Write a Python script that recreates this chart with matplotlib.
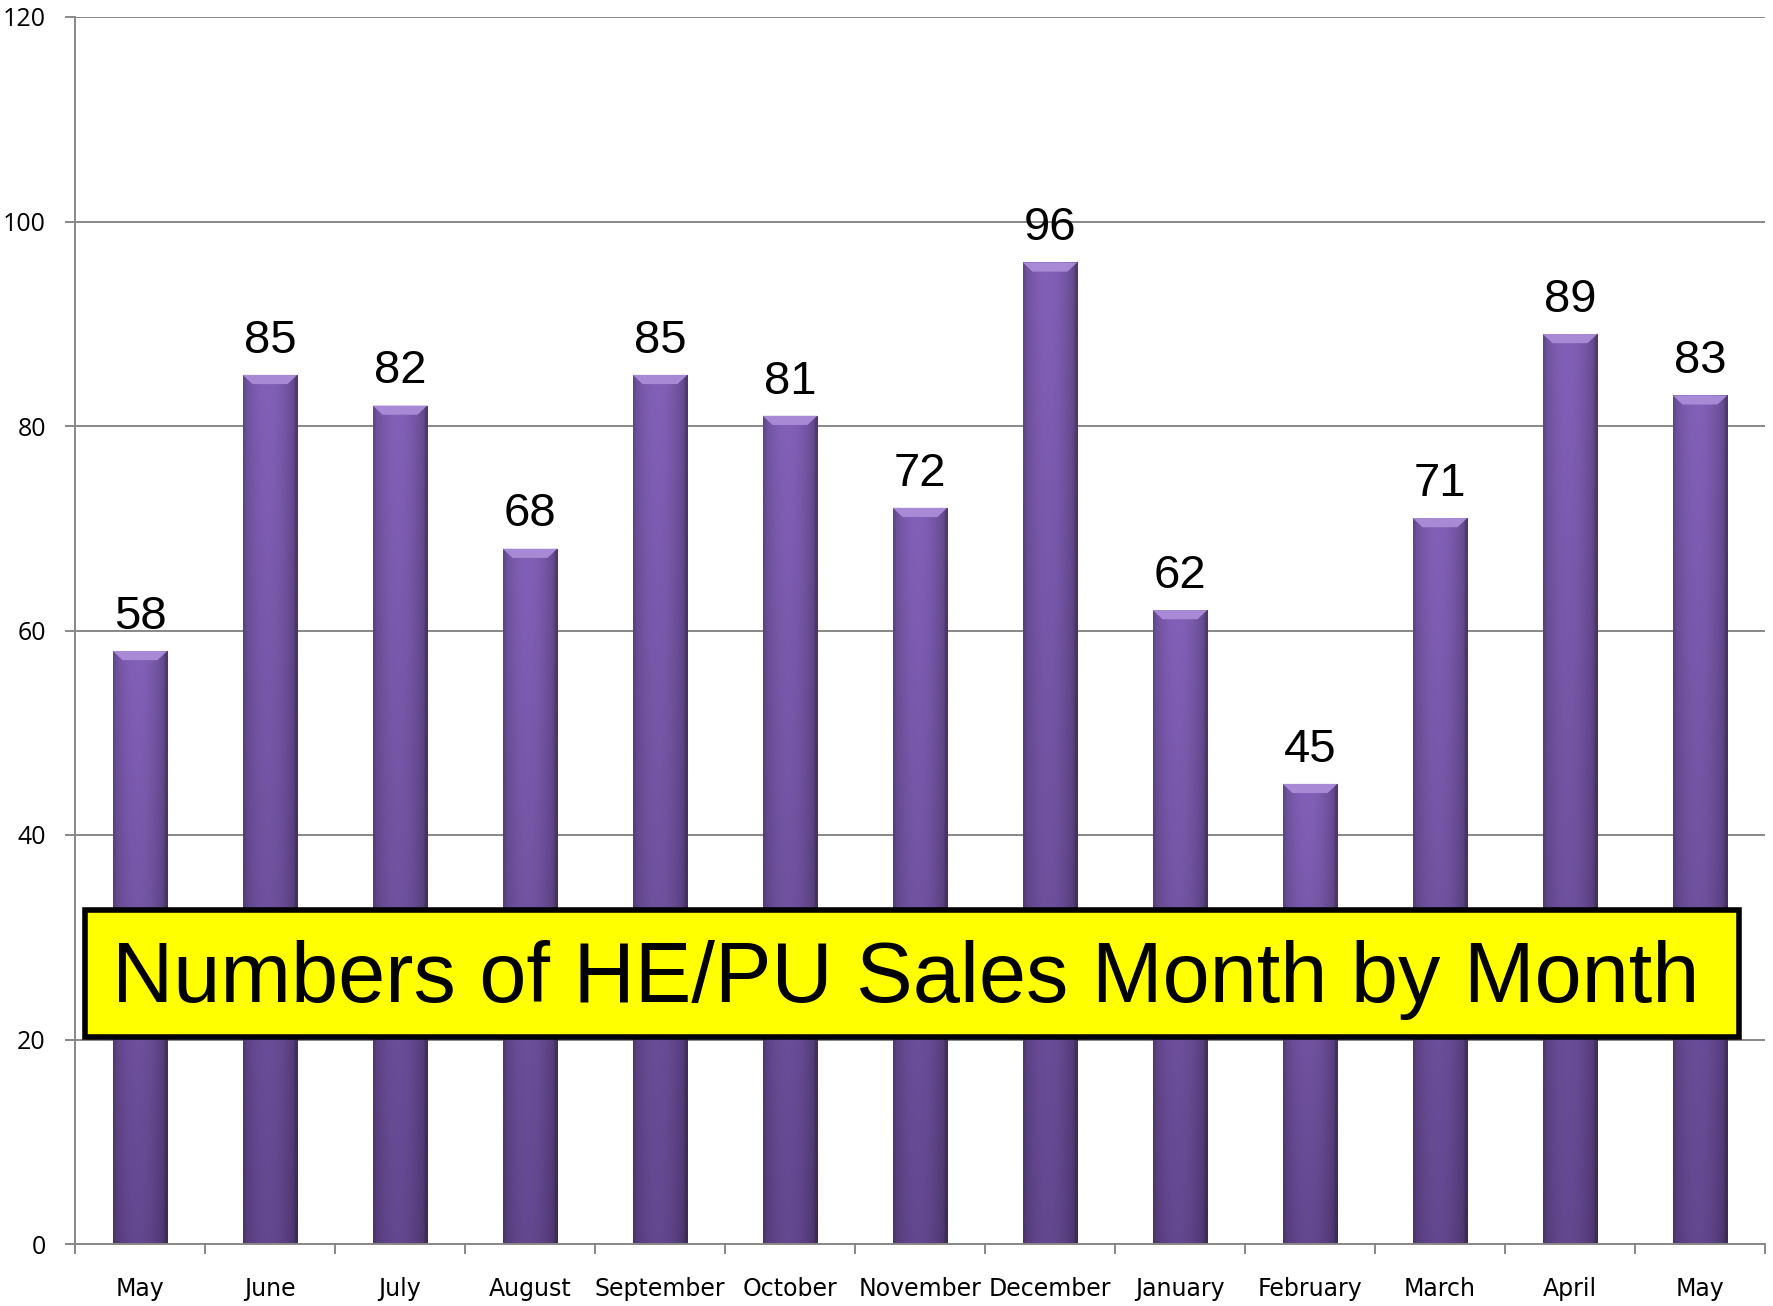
import numpy as np
import matplotlib
matplotlib.use("Agg")
import matplotlib.pyplot as plt
from matplotlib.patches import Rectangle, Polygon

months = ["May", "June", "July", "August", "September", "October", "November",
          "December", "January", "February", "March", "April", "May"]
sales = [58, 85, 82, 68, 85, 81, 72, 96, 62, 45, 71, 89, 83]
yticks = [0, 20, 40, 60, 80, 100, 120]
title = "Numbers of HE/PU Sales Month by Month"

W, H, DPI = 1774, 1306, 100
fig = plt.figure(figsize=(W / DPI, H / DPI), dpi=DPI)
ax = fig.add_axes([75 / W, 1 - 1244 / H, (1765 - 75) / W, (1244 - 17) / H])

x = np.arange(len(sales))
bars = ax.bar(x, sales, width=0.42, color="#7456A3", edgecolor="none", zorder=2)

# gradient fill for each bar
hx = np.linspace(0, 1, 64)
horiz = 1 - 0.25 * np.abs(hx - 0.45) ** 2 * 4
horiz[:3] *= 0.93
horiz[-4:] *= 0.85
vy = np.linspace(0, 1, 128)[:, None]
top_c = np.array([0x82, 0x60, 0xB8]) / 255
bot_c = np.array([0x63, 0x47, 0x8F]) / 255
base = bot_c[None, None, :] * (1 - vy[..., None]) + top_c[None, None, :] * vy[..., None]
img = np.clip(base * horiz[None, :, None], 0, 1)
for b in bars:
    x0, w, h = b.get_x(), b.get_width(), b.get_height()
    im = ax.imshow(img, extent=(x0, x0 + w, 0, h), origin="lower", aspect="auto",
                   zorder=2.1, interpolation="bilinear")
    im.set_clip_path(b)
    # top bevel (trapezoid)
    d = 0.9
    ax.add_patch(Polygon([(x0, h), (x0 + w, h), (x0 + w * 0.82, h - d), (x0 + w * 0.18, h - d)],
                         closed=True, facecolor="#A789D6", edgecolor="none", zorder=2.2))
    ax.text(x0 + w / 2, h + 1.2, str(int(h)), ha="center", va="bottom",
            fontsize=34, family="Liberation Sans", color="black", zorder=3)

ax.set_xlim(-0.5, len(sales) - 0.5)
ax.set_ylim(0, 120)
ax.set_yticks(yticks)
ax.set_yticklabels([str(t) for t in yticks], fontsize=18, family="Open Sans")
ax.set_xticks(x)
ax.set_xticklabels(months, fontsize=17, family="DejaVu Sans")
ax.set_xticks(np.arange(len(sales) + 1) - 0.5, minor=True)
ax.tick_params(axis="x", which="major", length=0, pad=24)
ax.tick_params(axis="x", which="minor", length=7, width=1.4, color="#888888")
ax.tick_params(axis="y", length=7, width=1.4, color="#888888", pad=14)
ax.yaxis.grid(True, color="#888888", linewidth=1.4, zorder=1)
ax.set_axisbelow(True)
for s in ["top", "right"]:
    ax.spines[s].set_visible(False)
for s in ["left", "bottom"]:
    ax.spines[s].set_color("#888888")
    ax.spines[s].set_linewidth(1.4)

# yellow title box
bx0, bx1 = 85 / W, 1739 / W
by0, by1 = 1 - 1037 / H, 1 - 910 / H
fig.patches.append(Rectangle((bx0, by0), bx1 - bx0, by1 - by0, transform=fig.transFigure,
                             facecolor="#FFFF00", edgecolor="black", linewidth=4, zorder=5))
fig.text((bx0 + bx1) / 2 - 6 / W, (by0 + by1) / 2 - 7 / H, title, ha="center", va="center",
         fontsize=61, family="Liberation Sans", color="black", zorder=6)

fig.savefig("out.png", dpi=DPI)
